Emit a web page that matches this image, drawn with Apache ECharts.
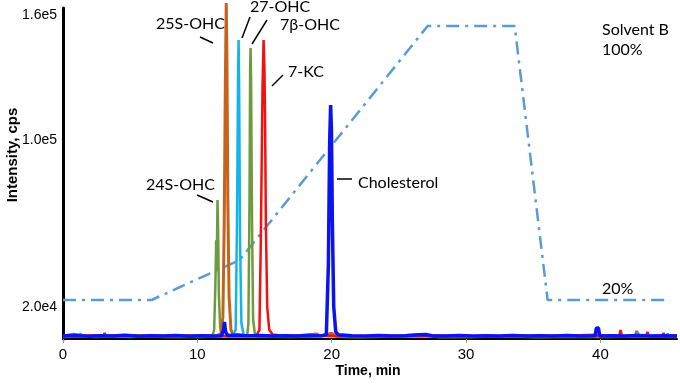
<!DOCTYPE html>
<html>
<head>
<meta charset="utf-8">
<script src="https://cdn.jsdelivr.net/npm/echarts@6/dist/echarts.min.js"></script>
<style>html,body{margin:0;padding:0;background:#fff;}#chart{width:680px;height:387px;}</style>
</head>
<body>
<div id="chart"></div>
<script>
// x tick values (min)
const xTicks = [0, 10, 20, 30, 40];
// y tick values (cps) and their labels
const yTicks = [20000, 100000, 160000];
const yTickLabels = ['2.0e4', '1.0e5', '1.6e5'];

// Solvent B gradient overlay (drawn on the intensity scale)
const gradient = [[0, 23320], [6.59, 23320], [13.14, 42500], [27.14, 154840], [33.62, 154840], [36.07, 23320], [45.16, 23320]];

// Green trace: 24S-OHC and 7β-OHC
const greenTrace = [
  [0,5600],[1.2,5800],[2.5,5500],[3.8,5900],[5.0,5600],[6.4,5800],[7.7,5500],[9.0,5700],[10.3,5600],[11.1,5800],
  [11.25,9000],[11.34,30000],[11.4,52000],[11.44,38000],[11.5,71300],[11.55,56000],[11.6,26000],[11.7,10000],[11.85,6200],
  [12.1,5900],[12.5,5700],[13.2,5700],[13.7,5900],
  [13.8,12000],[13.88,70000],[13.93,135000],[13.96,144300],[14.0,128000],[14.07,60000],[14.15,14000],[14.3,6000],
  [15.5,5700],[17.0,5600],[18.5,5800],[19.9,6800],[20.3,5700],[22.0,5500],[24.0,5700],[26.5,5900],[28.0,5500],
  [30.5,5600],[33.0,5800],[35.5,5500],[38.0,5700],[40.5,5600],[43.0,5800],[45.7,5600]
];
// Orange trace: 25S-OHC
const orangeTrace = [
  [0,6000],[0.8,6900],[1.8,5900],[2.9,6200],[4.1,5800],[5.3,6300],[6.6,5900],[7.8,6100],[9.0,5800],[10.2,6200],[11.3,6000],
  [11.75,7000],[11.9,15000],[12.0,60000],[12.08,125000],[12.15,165880],[12.2,140000],[12.27,70000],[12.36,25000],[12.5,9000],[12.7,6500],
  [13.5,6000],[15.0,6100],[17.0,5900],[18.9,7000],[19.1,6000],[20.0,7400],[20.3,6000],[22.5,5800],[25.0,6100],[26.6,6800],
  [28.0,5900],[31.0,5800],[34.0,6000],[37.0,5900],[39.9,6600],[40.2,5800],[42.6,6000],[42.7,8500],[42.8,6000],[44.5,5900],[45.7,6100]
];
// Cyan trace: 27-OHC
const cyanTrace = [
  [0,5900],[1.2,5800],[1.3,7400],[1.4,5800],[3.0,6000],[5.0,5800],[7.0,5900],[9.0,6000],[11.0,5800],[12.6,5900],
  [12.85,9000],[12.95,60000],[13.03,130000],[13.07,148100],[13.11,125000],[13.18,50000],[13.28,12000],[13.45,6500],
  [14.5,5900],[17.0,5800],[20.0,6100],[23.0,5800],[26.8,6500],[30.0,5800],[34.0,5900],[38.0,6000],
  [42.7,5900],[42.8,7600],[42.9,5900],[44.9,5900],[45.0,7200],[45.1,5900],[45.7,5900]
];
// Red trace: 7-KC
const redTrace = [
  [0,6100],[1.0,5900],[2.0,6300],[3.0,6000],[3.1,7500],[3.2,6000],[4.2,6400],[5.5,6000],[6.8,6200],[8.0,5900],[9.3,6300],
  [10.5,6000],[11.8,6100],[13.0,6000],[14.4,6200],
  [14.62,9000],[14.72,50000],[14.85,125000],[14.93,148100],[14.99,135000],[15.04,110000],[15.1,60000],[15.2,20000],[15.35,9000],[15.6,6800],
  [16.5,6100],[18.0,6000],[19.5,6300],[21.0,5900],[23.5,6100],[26.0,6000],[28.5,6200],[31.0,5900],[33.5,6100],[36.0,6000],[38.5,6200],
  [41.4,6000],[41.5,8920],[41.6,6000],[43.4,6100],[43.5,7960],[43.6,6100],[44.6,6000],[44.7,7480],[44.8,6000],[45.7,6100]
];
// Blue trace: Cholesterol
const blueTrace = [
  [0,6000],[0.9,6300],[1.9,5900],[2.8,6200],[3.7,6000],[4.6,6400],[5.6,5900],[6.5,6200],[7.5,6000],[8.4,6300],[9.4,5900],
  [10.3,6200],[11.2,6000],[11.8,6200],[11.95,9000],[12.02,12760],[12.1,8000],[12.25,6300],[13.0,6500],[13.8,6100],[14.7,6300],
  [15.6,6000],[16.5,6200],[17.4,6000],[18.3,6300],[19.2,6100],
  [19.6,6700],[19.75,40000],[19.85,100000],[19.92,116900],[19.98,105000],[20.05,60000],[20.15,20000],[20.3,8000],[20.5,6600],
  [21.5,6200],[22.5,6000],[23.5,6300],[24.5,6000],[25.5,6200],[26.5,6600],[27.0,6800],[27.5,6100],[28.5,6000],[29.5,6300],
  [30.5,6000],[31.5,6200],[32.5,6000],[33.5,6300],[34.5,6000],[35.5,6200],[36.5,6000],[37.5,6300],[38.5,6000],[39.6,6200],
  [39.7,9880],[39.85,9880],[39.95,6100],[40.8,6200],[41.8,6000],[42.8,6300],[43.8,6000],[44.8,6200],[45.7,6000]
];

const chart = echarts.init(document.getElementById('chart'), null, {renderer: 'canvas'});
const annFont = 'Lato, "Open Sans", sans-serif';
function txt(x, y, s) {
  return {type: 'text', x: x, y: y, style: {text: s, fill: '#000', font: '16px ' + annFont, verticalAlign: 'middle', align: 'left'}};
}
function seg(x1, y1, x2, y2) {
  return {type: 'line', shape: {x1: x1, y1: y1, x2: x2, y2: y2}, style: {stroke: '#000', lineWidth: 1.5}};
}
function trace(name, data, color, width) {
  return {name: name, type: 'line', data: data, showSymbol: false, symbol: 'none', clip: false,
    lineStyle: {color: color, width: width}, itemStyle: {color: color}, animation: false};
}

chart.setOption({
  animation: false,
  grid: {left: 63, right: 3, top: 8, bottom: 48, containLabel: false, outerBoundsMode: 'none'},
  xAxis: {
    type: 'value', min: 0, max: 45.7,
    axisLine: {show: true, onZero: false, lineStyle: {color: '#000', width: 2}},
    axisTick: {show: true, customValues: xTicks, length: 4, lineStyle: {color: '#999', width: 1}},
    axisLabel: {customValues: xTicks, color: '#000', fontSize: 15, fontFamily: 'Liberation Sans, Arial, sans-serif', margin: 8},
    splitLine: {show: false}
  },
  yAxis: {
    type: 'value', min: 4600, max: 163500,
    axisLine: {show: true, onZero: false, lineStyle: {color: '#000', width: 3}},
    axisTick: {show: false},
    axisLabel: {customValues: yTicks, color: '#000', fontSize: 14, fontFamily: 'Liberation Sans, Arial, sans-serif', margin: 6,
      formatter: function (v) { const i = yTicks.indexOf(v); return i >= 0 ? yTickLabels[i] : ''; }},
    splitLine: {show: false}
  },
  series: [
    {name: 'Solvent B', type: 'line', data: gradient, showSymbol: false, symbol: 'none', clip: false,
      lineStyle: {color: '#5B9BD5', width: 2.5, type: [13, 6, 3, 6]}, animation: false},
    trace('green', greenTrace, '#6E9B3F', 2.5),
    trace('orange', orangeTrace, '#C8621A', 3),
    trace('cyan', cyanTrace, '#12B4EE', 2.5),
    trace('red', redTrace, '#F21010', 2.5),
    trace('blue', blueTrace, '#0A14F0', 3.5)
  ],
  graphic: [
    txt(156, 24, '25S-OHC'), seg(200, 37, 213, 43),
    txt(250, 7, '27-OHC'), seg(250, 17, 242, 38),
    txt(280, 25, '7β-OHC'), seg(267, 20, 252, 44),
    txt(288, 72, '7-KC'), seg(283, 75, 272, 86),
    txt(146, 185, '24S-OHC'), seg(197, 195, 213, 202),
    txt(358, 183, 'Cholesterol'), seg(337, 179, 352, 179),
    txt(602, 30, 'Solvent B'), txt(602, 50, '100%'), txt(602, 289, '20%'),
    {type: 'text', x: 368, y: 371, style: {text: 'Time, min', fill: '#000', align: 'center', verticalAlign: 'middle', font: 'bold 14px "Liberation Sans", Arial, sans-serif'}},
    {type: 'text', x: 13, y: 155, rotation: Math.PI / 2,
      style: {text: 'Intensity, cps', fill: '#000', align: 'center', verticalAlign: 'middle', font: 'bold 15px "Liberation Sans", Arial, sans-serif'}}
  ]
});
</script>
</body>
</html>
